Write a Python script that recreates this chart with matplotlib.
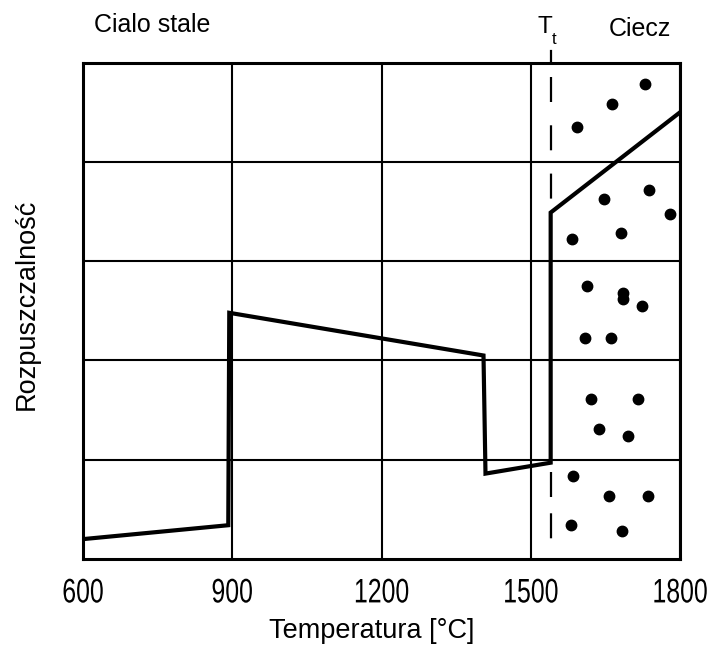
import matplotlib
matplotlib.use("Agg")
import matplotlib.pyplot as plt
from matplotlib.patheffects import AbstractPathEffect
from matplotlib.transforms import Affine2D

# ---- data ----
curve_temp = [600, 892, 894, 1405, 1409, 1540, 1540, 1800]
curve_solub = [0.20, 0.34, 2.48, 2.05, 0.86, 0.97, 3.49, 4.50]

T_t = 1540
dash_upper = [4.857, 3.615]
dash_lower = [0.879, 0.191]

dots_temp = [1730, 1664, 1592, 1738, 1648, 1779, 1682, 1583, 1614, 1686, 1686,
             1724, 1609, 1661, 1621, 1716, 1638, 1696, 1584, 1658, 1735, 1580, 1683]
dots_solub = [4.79, 4.58, 4.35, 3.72, 3.63, 3.48, 3.28, 3.22, 2.75, 2.68, 2.62,
              2.55, 2.23, 2.23, 1.61, 1.61, 1.31, 1.24, 0.84, 0.63, 0.63, 0.34, 0.28]

xticks = [600, 900, 1200, 1500, 1800]
xtick_labels = ["600", "900", "1200", "1500", "1800"]
yticks = [1, 2, 3, 4]

xlabel = "Temperatura [°C]"
ylabel = "Rozpuszczalność"
label_solid = "Cialo stale"
label_liquid = "Ciecz"


class Condense(AbstractPathEffect):
    """Squeeze text glyphs horizontally about their centre (keeps real text)."""

    def __init__(self, sx=0.73):
        super().__init__()
        self.sx = sx

    def draw_path(self, renderer, gc, tpath, affine, rgbFace=None):
        ext = tpath.get_extents()
        cx = 0.5 * (ext.x0 + ext.x1)
        t = Affine2D().translate(-cx, 0).scale(self.sx, 1.0).translate(cx, 0)
        renderer.draw_path(gc, tpath, t + affine, rgbFace)


# ---- figure ----
fig = plt.figure(figsize=(7.18, 6.53), dpi=100)
ax = fig.add_axes([0.1156, 0.1440, 0.8315, 0.7600])

ax.set_xlim(600, 1800)
ax.set_ylim(0, 5)
ax.set_xticks(xticks)
ax.set_xticklabels(xtick_labels, family=["Liberation Sans", "DejaVu Sans"], fontsize=24.5)
for lab in ax.get_xticklabels():
    lab.set_path_effects([Condense(0.73)])
ax.set_yticks(yticks)
ax.set_yticklabels([])
ax.tick_params(axis="both", length=0)
ax.tick_params(axis="x", pad=14)
ax.grid(True, color="black", linewidth=1.5)
ax.set_axisbelow(True)
for s in ax.spines.values():
    s.set_linewidth(2.2)
    s.set_color("black")

# dashed transition line
ax.plot([T_t, T_t], dash_upper, color="black", linewidth=1.6,
        dashes=(25 / 1.6 * 0.72, 23.3 / 1.6 * 0.72))
ax.plot([T_t, T_t], dash_lower, color="black", linewidth=1.6,
        dashes=(25 / 1.6 * 0.72, 16.3 / 1.6 * 0.72))
ax.plot([T_t, T_t], [5.0, 5.12], color="black", linewidth=1.6, clip_on=False)

# solubility curve
ax.plot(curve_temp, curve_solub, color="black", linewidth=3.0,
        solid_joinstyle="miter", zorder=3)

# liquid dots
ax.plot(dots_temp, dots_solub, linestyle="none", marker="o", color="black",
        markersize=7.5, zorder=3)

ax.set_xlabel(xlabel, family=["Liberation Sans", "DejaVu Sans"], fontsize=19.5)
ax.set_ylabel(ylabel, family=["Liberation Sans", "DejaVu Sans"], fontsize=19.5)
ax.xaxis.set_label_coords(0.483, -0.118)
ax.yaxis.set_label_coords(-0.072, 0.514)

fs_top = ["Liberation Sans", "DejaVu Sans"]
fig.text(152 / 718, 1 - 25 / 653, label_solid, ha="center", va="center",
         family=fs_top, fontsize=18)
fig.text(639.5 / 718, 1 - 28.5 / 653, label_liquid, ha="center", va="center",
         family=fs_top, fontsize=18)
fig.text(544.5 / 718, 1 - 27 / 653, "T", ha="center", va="center",
         family=fs_top, fontsize=17.5)
fig.text(554 / 718, 1 - 40 / 653, "t", ha="center", va="center",
         family=fs_top, fontsize=12)

fig.savefig("out.png", dpi=100, facecolor="white")
